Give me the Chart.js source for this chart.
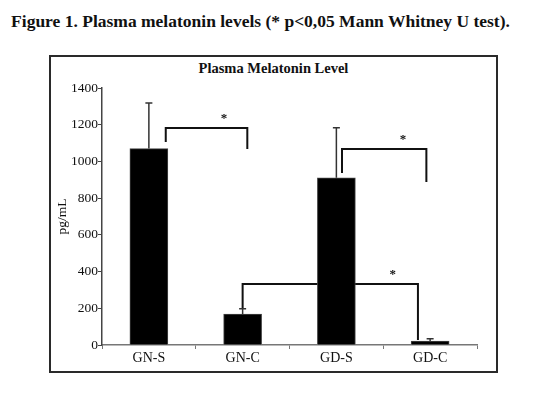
<!DOCTYPE html>
<html lang="en">
  <head>
    <meta charset="UTF-8" />
    <title>Plasma Melatonin Level</title>
    <script src="https://cdn.jsdelivr.net/npm/chart.js@4.4.0/dist/chart.umd.min.js"></script>
    <style>
      body { margin: 0; background: #fff; width: 540px; height: 393px; position: relative; overflow: hidden; }
      .fig-title {
        position: absolute; left: 0; top: 11px; width: 521px; text-align: center;
        font: bold 17.5px "Liberation Serif", serif; color: #111;
      }
      .frame {
        position: absolute; left: 49px; top: 55px; width: 445px; height: 314px;
        border: 2px solid #2a2a2a;
      }
      .chart-title {
        position: absolute; left: 49px; top: 60px; width: 449px; text-align: center;
        font: bold 14.5px "Liberation Serif", serif; color: #111;
      }
      #chart { position: absolute; left: 0; top: 0; }
    </style>
  </head>
  <body>
    <div class="fig-title">Figure 1. Plasma melatonin levels (* p&lt;0,05 Mann Whitney U test).</div>
    <div class="frame"></div>
    <div class="chart-title">Plasma Melatonin Level</div>
    <canvas id="chart" width="540" height="393"></canvas>
    <script>
      // values
      const groups = ["GN-S", "GN-C", "GD-S", "GD-C"];
      const melatonin = [1070, 169, 911, 22];
      const errors = [248, 28, 273, 12];
      const yTicks = [0, 200, 400, 600, 800, 1000, 1200, 1400];

      // significance brackets: [from, to, top, left end, right end] (category index / pg/mL)
      const brackets = [
        [0.18, 1.05, 1182, 1106, 1068],
        [2.06, 2.96, 1068, 937, 888],
        [1.0, 2.87, 332, 202, 27],
      ];
      const starAt = [0.8, 2.71, 2.6];

      const annot = {
        id: "annot",
        beforeDatasetsDraw(chart) {
          const c = chart.ctx;
          const x = chart.scales.x, y = chart.scales.y;
          c.save();
          c.strokeStyle = "#111";
          c.lineWidth = 2;
          brackets.forEach((b, i) => {
            const x1 = x.getPixelForValue(b[0]), x2 = x.getPixelForValue(b[1]);
            c.beginPath();
            c.moveTo(x1, y.getPixelForValue(b[3]));
            c.lineTo(x1, y.getPixelForValue(b[2]));
            c.lineTo(x2, y.getPixelForValue(b[2]));
            c.lineTo(x2, y.getPixelForValue(b[4]));
            c.stroke();
            c.fillStyle = "#111";
            c.font = "bold 13px 'Liberation Serif'";
            c.textAlign = "center";
            c.textBaseline = "middle";
            c.fillText("*", x.getPixelForValue(starAt[i]), y.getPixelForValue(b[2]) - 9);
          });
          c.restore();
        },
        afterDatasetsDraw(chart) {
          const c = chart.ctx;
          const y = chart.scales.y;
          const meta = chart.getDatasetMeta(0);
          c.save();
          c.strokeStyle = "#333";
          c.lineWidth = 1.5;
          meta.data.forEach((bar, i) => {
            const top = y.getPixelForValue(melatonin[i] + errors[i]);
            c.beginPath();
            c.moveTo(bar.x, bar.y);
            c.lineTo(bar.x, top);
            c.moveTo(bar.x - 3.5, top);
            c.lineTo(bar.x + 3.5, top);
            c.stroke();
          });
          c.restore();
        },
      };

      new Chart(document.getElementById("chart"), {
        type: "bar",
        data: {
          labels: groups,
          datasets: [
            {
              data: melatonin,
              backgroundColor: "#000",
              borderColor: "#444",
              borderWidth: 1,
              barThickness: 38,
            },
          ],
        },
        options: {
          responsive: false,
          animation: false,
          layout: { padding: { left: 52, right: 63, top: 88, bottom: 23 } },
          plugins: { legend: { display: false }, tooltip: { enabled: false } },
          scales: {
            x: {
              afterFit: (s) => { s.height = 25; },
              grid: { drawOnChartArea: false, offset: true, tickLength: 4, color: "#777" },
              border: { color: "#777", width: 1.5 },
              ticks: { color: "#111", padding: 1, font: { family: "Liberation Serif", size: 14 } },
            },
            y: {
              min: 0,
              max: 1400,
              afterFit: (s) => { s.width = 50; },
              afterBuildTicks: (s) => { s.ticks = yTicks.map((v) => ({ value: v })); },
              grid: { drawOnChartArea: false, tickLength: 4, color: "#444" },
              border: { color: "#444", width: 1.5 },
              ticks: {
                color: "#111",
                padding: 0,
                font: { family: "Liberation Serif", size: 13.5 },
                callback: (v) => String(v),
              },
              title: {
                display: true,
                text: "pg/mL",
                color: "#111",
                padding: 2,
                font: { family: "Liberation Serif", size: 13.5 },
              },
            },
          },
        },
        plugins: [annot],
      });
    </script>
  </body>
</html>
